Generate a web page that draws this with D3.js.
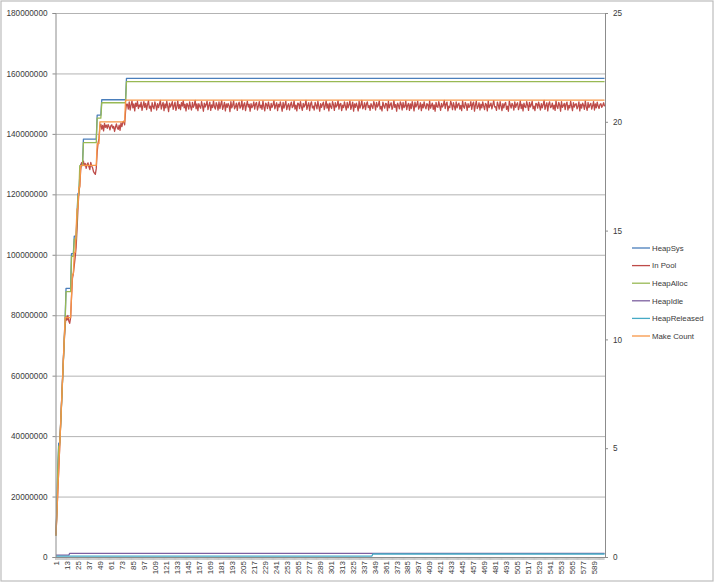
<!DOCTYPE html>
<html>
<head>
<meta charset="utf-8">
<script src="https://cdn.jsdelivr.net/npm/d3@7"></script>
<style>
  body { margin: 0; background: #fff; }
  svg { display: block; font-family: "Liberation Sans", Arial, sans-serif; }
</style>
</head>
<body>
<svg id="chart" width="715" height="583"></svg>
<script>
// categories 1..600 (one per sample)
const categories = d3.range(1, 601);

const tickLabels = [1, 13, 25, 37, 49, 61, 73, 85, 97, 109, 121, 133, 145, 157, 169, 181, 193, 205,
  217, 229, 241, 253, 265, 277, 289, 301, 313, 325, 337, 349, 361, 373, 385, 397, 409, 421, 433,
  445, 457, 469, 481, 493, 505, 517, 529, 541, 553, 565, 577, 589];

const leftTicks = [0, 20000000, 40000000, 60000000, 80000000, 100000000, 120000000, 140000000, 160000000, 180000000];
const rightTicks = [0, 5, 10, 15, 20, 25];

const seriesNames = ["HeapSys", "In Pool", "HeapAlloc", "HeapIdle", "HeapReleased", "Make Count"];

// step series: [first category, value in millions of bytes]
const heapSysSteps = [[1, 7.5], [2, 16], [3, 30], [4, 37.7], [6, 43.5], [7, 50.5], [8, 57.5], [9, 64.7],
  [10, 72.0], [11, 78.5], [12, 88.9], [18, 100.4], [21, 106.2], [24, 113], [25, 120.3], [27, 126],
  [28, 130], [31, 138.3], [46, 146.2], [51, 151.3], [78, 158.4]];
const heapAllocSteps = [[1, 7.0], [2, 15.3], [3, 29.0], [4, 36.5], [5, 37.0], [6, 42.8], [7, 49.8], [8, 56.8],
  [9, 64.0], [10, 71.2], [11, 77.8], [12, 87.8], [18, 99.5], [21, 105.2], [24, 112], [25, 119.5],
  [26, 119.8], [27, 129.5], [31, 137.1], [46, 145.2], [51, 150.3], [78, 157.3]];
const heapIdleSteps = [[1, 0.6], [16, 1.2]];
const heapReleasedSteps = [[1, 0.3], [347, 1.0]];
// make count (right axis)
const makeCountSteps = [[1, 1], [2, 2], [3, 3], [4, 4], [5, 5], [6, 6], [7, 7], [8, 8], [9, 9], [10, 10],
  [11, 11], [18, 12], [19, 13], [21, 14], [23, 15], [24, 16], [26, 17], [28, 18], [46, 19], [49, 20], [77, 21]];

// In Pool, millions of bytes
const inPoolRamp = [7.0, 14.2, 21.5, 28.6, 35.8, 43.0, 50.1, 57.3, 64.4, 71.0, 76.3, 79.6, 78.4, 79.9,
  78.1, 77.3, 79.2, 86.0, 92.2, 93.8, 96.5, 99.2, 102.4, 108.3, 115.1, 120.6, 122.8, 128.0];
const inPoolStep18 = [130.5, 129.8, 131.0, 129.5, 130.2, 128.6, 129.9, 130.4, 129.1, 128.2, 130.6, 129.4,
  128.8, 127.5, 127.0, 126.6, 128.5];
const inPoolRise = [134.0, 137.0, 138.5, 142.5];
const inPoolStep20 = [143.2, 141.6, 142.8, 141.0, 143.5, 142.2, 142.9, 141.8, 143.1, 142.4, 141.3, 142.7,
  143.0, 141.9, 142.5, 140.8, 142.2, 143.3, 142.0, 141.5, 142.9, 141.2, 143.6, 142.4, 143.9, 144.2, 143.0];
const inPoolStep21 = [147.5, 149.8,
  149.8, 148.2, 150.6, 147.9, 149.5, 150.9, 148.6, 149.9, 147.6, 150.2, 149.1, 150.8, 148.4, 149.6, 148.9, 150.5, 147.8, 149.3, 150.7, 148.8,
  150.1, 148.0, 149.7, 151.0, 148.5, 149.2, 147.5, 150.3, 149.0, 148.3, 150.6, 149.4, 147.9, 150.0, 148.7, 149.8, 151.1, 148.2, 149.5, 150.4,
  147.7, 149.9, 148.6, 150.8, 149.1, 147.4, 150.2, 148.9, 149.6, 150.7, 148.1, 149.3, 150.5, 147.8, 149.0, 150.9, 148.4, 149.7, 148.0, 150.3,
  149.2, 151.0, 148.6, 149.8, 147.6, 150.1, 149.4, 148.2, 150.6, 149.0, 147.9, 150.4, 148.8, 149.5, 151.1, 148.3, 149.9, 147.7, 150.0, 149.1,
  148.5, 150.7, 149.3, 147.5, 150.2, 148.9, 149.7, 150.8, 148.0, 149.4, 150.5, 147.8, 149.6, 148.7, 150.9, 149.0, 148.2, 150.3, 149.5, 147.9,
  150.6, 148.4, 149.8, 151.0, 148.1, 149.2, 150.4, 147.6, 149.9, 148.8, 150.1, 149.3, 147.4, 150.7, 148.6, 149.5, 150.9, 148.3, 149.0, 150.2,
  147.8, 149.7, 150.5, 148.5, 149.1, 151.1, 148.0, 149.6, 150.3, 147.7, 149.4, 150.8, 148.9, 149.8, 147.5, 150.0, 148.7, 149.3, 150.6, 148.2,
  149.9, 150.4, 147.9, 149.2, 150.7, 148.6, 149.5, 148.1, 150.9, 149.0, 147.6, 150.2, 149.7, 148.4, 150.5, 149.1, 147.8, 150.1, 148.8, 149.6,
  151.0, 148.3, 149.4, 150.3, 147.7, 149.8, 148.9, 150.6, 149.2, 147.5, 150.4, 148.5, 149.7, 150.8, 148.0, 149.3, 150.0, 147.9, 149.6, 150.5,
  148.7, 149.1, 150.9, 148.2, 149.5, 147.6, 150.2, 149.9, 148.4, 150.7, 149.0, 147.8, 150.1, 148.9, 149.6, 151.1, 148.1, 149.4, 150.3, 147.7,
  149.8, 150.6, 148.6, 149.2, 147.9, 150.4, 149.5, 148.3, 150.8, 149.1, 147.5, 150.0, 148.8, 149.7, 150.5, 148.0, 149.3, 150.9, 148.5, 149.9,
  147.6, 150.2, 149.0, 148.4, 150.7, 149.6, 147.8, 150.3, 148.9, 149.4, 151.0, 148.2, 149.8, 150.1, 147.7, 149.5, 148.7, 150.6, 149.2, 147.9,
  150.4, 148.6, 149.7, 150.9, 148.1, 149.3, 150.5, 147.5, 149.9, 148.8, 150.2, 149.1, 147.6, 150.8, 148.5, 149.6, 151.1, 148.3, 149.0, 150.3,
  148.0, 149.8, 150.6, 148.7, 149.4, 147.8, 150.0, 149.2, 148.4, 150.7, 149.7, 147.9, 150.4, 148.9, 149.5, 150.9, 148.2, 149.1, 147.6, 150.5,
  149.3, 148.5, 150.1, 149.9, 147.7, 150.8, 148.6, 149.6, 150.3, 148.1, 149.0, 151.0, 148.8, 149.7, 147.5, 150.2, 149.4, 148.3, 150.6, 149.8,
  147.9, 150.4, 148.7, 149.2, 150.9, 148.0, 149.5, 150.1, 147.8, 149.9, 148.4, 150.7, 149.3, 147.6, 150.5, 148.9, 149.6, 150.8, 148.2, 149.0,
  150.3, 147.7, 149.8, 148.6, 150.6, 149.1, 148.3, 150.0, 149.7, 147.9, 150.9, 148.5, 149.4, 150.2, 148.1, 149.6, 147.5, 150.4, 149.0, 148.8,
  150.7, 149.3, 147.8, 150.1, 148.9, 149.5, 151.1, 148.4, 149.9, 150.5, 147.6, 149.2, 148.7, 150.8, 149.8, 148.0, 150.3, 149.1, 147.9, 150.6,
  148.6, 149.7, 150.2, 148.2, 149.4, 147.7, 150.9, 149.0, 148.5, 150.4, 149.6, 147.8, 150.0, 148.8, 149.3, 150.7, 148.1, 149.9, 150.5, 147.5,
  149.5, 150.8, 148.4, 149.1, 150.3, 147.9, 149.8, 148.6, 150.6, 149.2, 148.0, 150.1, 149.7, 147.6, 150.9, 148.7, 149.4, 150.2, 148.3, 149.6,
  151.0, 148.9, 149.0, 147.8, 150.5, 149.5, 148.2, 150.7, 149.3, 147.7, 150.0, 148.6, 149.9, 150.4, 148.1, 149.2, 147.5, 150.8, 149.6, 148.5,
  150.1, 149.4, 147.9, 150.6, 148.8, 149.7, 150.3, 148.0, 149.1, 150.9, 148.4, 149.8, 147.6, 150.2, 149.0, 148.7, 150.7, 149.5, 147.8, 150.4,
  148.9, 149.6, 150.8, 148.3, 149.2, 147.7, 150.1, 149.9, 148.5, 150.5, 149.3, 147.9, 150.0, 148.6, 149.7, 151.1, 148.1, 149.4, 150.3, 147.6,
  149.8, 150.6, 148.7, 149.0, 150.2, 148.2, 149.5, 147.8, 150.9, 149.1, 148.4, 150.4, 149.6, 147.5, 150.7, 148.8, 149.3, 150.1, 148.0, 149.9,
  150.5, 147.9, 149.4, 148.6, 150.8, 149.2, 147.7, 150.3, 148.9, 149.7, 150.0, 148.3, 149.1, 150.6, 147.6, 149.8, 148.5, 150.2, 149.5, 148.1,
  150.9, 149.0, 147.8, 150.4, 148.7, 149.6, 150.1, 148.2, 149.3, 150.7, 147.9, 149.9, 148.6, 150.5, 149.2, 148.4, 149.7, 150.0, 148.8, 149.4,
  150.3, 149.1];

const colors = ["#4a7ebb", "#be4b48", "#98b954", "#7d60a0", "#46aac5", "#f79646"];

// expand step lists to one value per category
function expandSteps(steps) {
  return categories.map(c => {
    let v = steps[0][1];
    steps.forEach(([start, val]) => { if (c >= start) v = val; });
    return v;
  });
}

const inPool = inPoolRamp.concat(inPoolStep18, inPoolRise, inPoolStep20, inPoolStep21);

const series = [
  { name: "HeapSys", values: expandSteps(heapSysSteps), axis: "left" },
  { name: "In Pool", values: inPool, axis: "left" },
  { name: "HeapAlloc", values: expandSteps(heapAllocSteps), axis: "left" },
  { name: "HeapIdle", values: expandSteps(heapIdleSteps), axis: "left" },
  { name: "HeapReleased", values: expandSteps(heapReleasedSteps), axis: "left" },
  { name: "Make Count", values: expandSteps(makeCountSteps), axis: "right" }
];

const plotLeft = 55.5, plotRight = 605, plotTop = 13, plotBottom = 557;

const svg = d3.select("#chart");

// outer frame
svg.append("rect")
  .attr("x", 1).attr("y", 1).attr("width", 712).attr("height", 580)
  .attr("fill", "#fff").attr("stroke", "#bcbcbc").attr("stroke-width", 1.2);

const x = d3.scaleBand().domain(categories).range([plotLeft, plotRight]);
const cx = c => x(c) + x.bandwidth() / 2;
const yLeft = d3.scaleLinear().domain([0, 180000000]).range([plotBottom, plotTop]);
const yRight = d3.scaleLinear().domain([0, 25]).range([plotBottom, plotTop]);

// gridlines
svg.append("g")
  .attr("transform", `translate(${plotLeft},0)`)
  .call(d3.axisLeft(yLeft).tickValues(leftTicks).tickSize(-(plotRight - plotLeft)).tickFormat(""))
  .call(g => g.select(".domain").remove())
  .call(g => g.selectAll("line").attr("stroke", "#b3b3b3"));

// series
series.forEach((s, k) => {
  const yScale = s.axis === "left" ? yLeft : yRight;
  const mult = s.axis === "left" ? 1e6 : 1;
  const line = d3.line()
    .x((d, i) => cx(categories[i]))
    .y(d => yScale(d * mult));
  svg.append("path")
    .datum(s.values)
    .attr("d", line)
    .attr("fill", "none")
    .attr("stroke", colors[k])
    .attr("stroke-width", 1.3)
    .attr("stroke-linejoin", "round");
});

// left axis
svg.append("g")
  .attr("transform", `translate(${plotLeft},0)`)
  .call(d3.axisLeft(yLeft).tickValues(leftTicks).tickSize(3).tickPadding(5).tickFormat(d3.format("d")))
  .call(g => g.select(".domain").attr("stroke", "#8c8c8c"))
  .call(g => g.selectAll(".tick line").attr("stroke", "#8c8c8c"))
  .call(g => g.selectAll("text").attr("fill", "#3a3a3a").style("font-size", "8.2px")
    .style("font-family", "'Liberation Sans', Arial, sans-serif"));

// right axis
svg.append("g")
  .attr("transform", `translate(${plotRight},0)`)
  .call(d3.axisRight(yRight).tickValues(rightTicks).tickSize(3).tickPadding(5))
  .call(g => g.select(".domain").attr("stroke", "#8c8c8c"))
  .call(g => g.selectAll(".tick line").attr("stroke", "#8c8c8c"))
  .call(g => g.selectAll("text").attr("fill", "#3a3a3a").style("font-size", "8.2px")
    .style("font-family", "'Liberation Sans', Arial, sans-serif"));

// category tick marks (one per category boundary)
svg.append("g")
  .selectAll("line")
  .data(categories)
  .join("line")
  .attr("x1", d => x(d)).attr("x2", d => x(d))
  .attr("y1", plotBottom).attr("y2", plotBottom + 3)
  .attr("stroke", "#9a9a9a").attr("stroke-width", 0.5);

// bottom axis with rotated labels
svg.append("g")
  .attr("transform", `translate(0,${plotBottom})`)
  .call(d3.axisBottom(x).tickValues(tickLabels).tickSize(0))
  .call(g => g.select(".domain").attr("stroke", "#8c8c8c"))
  .call(g => g.selectAll("text")
    .attr("transform", "rotate(-90)")
    .attr("x", -4).attr("y", 0).attr("dy", "0.35em")
    .style("text-anchor", "end")
    .attr("fill", "#3a3a3a").style("font-size", "8px")
    .style("font-family", "'Liberation Sans', Arial, sans-serif"));

// legend
const legend = svg.append("g").attr("transform", "translate(632,248)");
const rows = legend.selectAll("g")
  .data(seriesNames)
  .join("g")
  .attr("transform", (d, i) => `translate(0,${i * 17.6})`);
rows.append("line")
  .attr("x1", 0).attr("x2", 18).attr("y1", 0).attr("y2", 0)
  .attr("stroke", (d, i) => colors[i]).attr("stroke-width", 1.3);
rows.append("text")
  .attr("x", 20).attr("y", 0).attr("dy", "0.35em")
  .text(d => d)
  .attr("fill", "#3a3a3a").style("font-size", "7.8px");
</script>
</body>
</html>
